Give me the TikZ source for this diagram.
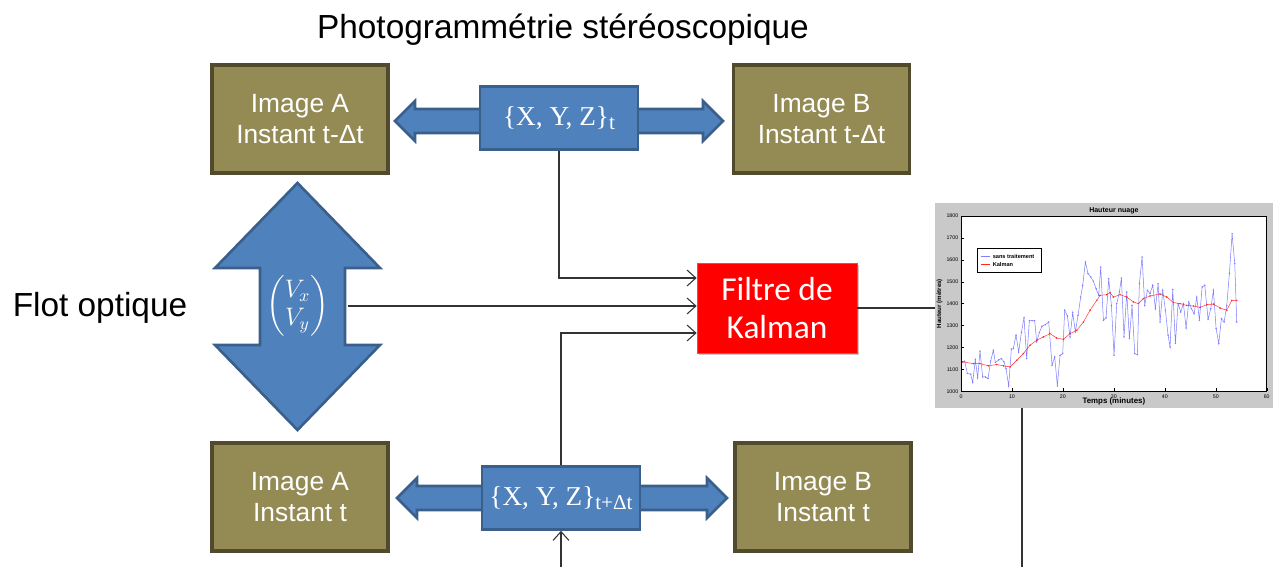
\documentclass[tikz,border=0pt]{standalone}
\usepackage{amsmath}
\usepackage{fontspec}
\setmainfont{Liberation Sans}
\newfontfamily\kalfont{Carlito}
\newfontfamily\xyzfont{Liberation Serif}
\usetikzlibrary{arrows.meta,shadows}

\definecolor{boxblue}{HTML}{4F81BD}
\definecolor{blueline}{HTML}{3A5F8B}
\definecolor{imgfill}{HTML}{948A54}
\definecolor{imgline}{HTML}{524A2C}
\definecolor{rawblue}{HTML}{8080FF}

\begin{document}
\begin{tikzpicture}[
    imgbox/.style={draw=imgline, line width=2pt, fill=imgfill, text=white,
        minimum width=3.52cm, minimum height=2.16cm, align=center,
        font=\fontsize{15}{18}\selectfont},
    xyzbox/.style={draw=blueline, line width=1.5pt, fill=boxblue, text=white,
        minimum width=3.16cm, minimum height=1.26cm,
        font=\xyzfont\fontsize{15.5}{17}\selectfont},
    bigarrow/.style={draw=blueline, line width=1.5pt, fill=boxblue},
    conn/.style={draw=black!80, line width=0.6pt, -{Straight Barb[length=5pt,width=9pt]}},
    link/.style={draw=black!80, line width=0.6pt},
    ticklbl/.style={font=\fontsize{3}{3}\selectfont, inner sep=0.5pt}
]
    \useasboundingbox (0,0) rectangle (25.48,-11.34);

    % Titles
        \node (title) at (11.26,-0.6) {\fontsize{19}{22}\selectfont Photogrammétrie stéréoscopique};
        \node (flotlbl) at (2.0,-6.16) {\fontsize{19}{22}\selectfont Flot optique};

    % The four images.
        \node[imgbox] (imgAt) at (6.0,-2.38) {Image A\\Instant t-Δt};
        \node[imgbox] (imgBt) at (16.43,-2.38) {Image B\\Instant t-Δt};
        \node[imgbox] (imgAb) at (6.0,-9.94) {Image A\\Instant t};
        \node[imgbox] (imgBb) at (16.46,-9.94) {Image B\\Instant t};

    % Horizontal double arrows behind the {X,Y,Z} boxes.
        \foreach \xl/\xr/\y in {7.9/14.46/-2.42, 7.94/14.54/-9.96}
            \draw[bigarrow] (\xl,\y) -- ({\xl+0.4},{\y+0.4}) -- ({\xl+0.4},{\y+0.24})
                -- ({\xr-0.4},{\y+0.24}) -- ({\xr-0.4},{\y+0.4}) -- (\xr,\y)
                -- ({\xr-0.4},{\y-0.4}) -- ({\xr-0.4},{\y-0.24})
                -- ({\xl+0.4},{\y-0.24}) -- ({\xl+0.4},{\y-0.4}) -- cycle;
        \node[xyzbox] (xyzt) at (11.18,-2.36)
            {\{X, Y, Z\}\raisebox{-0.35ex}{\fontsize{12}{12}\selectfont t}};
        \node[xyzbox] (xyzdt) at (11.22,-9.96)
            {\{X, Y, Z\}\raisebox{-0.35ex}{\fontsize{12}{12}\selectfont t+Δt}};

    % Vertical double arrow (optical flow).
        \draw[bigarrow] (5.95,-3.66) -- (7.6,-5.36) -- (6.9,-5.36) -- (6.9,-6.9)
            -- (7.6,-6.9) -- (5.95,-8.6) -- (4.3,-6.9) -- (5.2,-6.9)
            -- (5.2,-5.36) -- (4.3,-5.36) -- cycle;
        \node[text=white, minimum width=2cm] (flot) at (5.95,-6.12)
            {\fontsize{14}{16}\selectfont$\begin{pmatrix}V_x\\V_y\end{pmatrix}$};

    % Kalman filter.
        \node[draw=boxblue, line width=0.4pt, fill=red, text=white, align=center,
            minimum width=3.2cm, minimum height=1.8cm,
            drop shadow={shadow xshift=1.2pt, shadow yshift=-1.2pt, opacity=0.45},
            font=\kalfont\fontsize{19}{22}\selectfont] (kalman) at (15.54,-6.16)
            {Filtre de\\Kalman};

    % Connectors into the filter.
        \draw[conn] (xyzt.south) |- ([yshift=0.6cm]kalman.west);
        \draw[conn] (flot.east) -- (flot.east -| kalman.west);
        \draw[conn] (xyzdt.north) |- ([yshift=-0.5cm]kalman.west);
        \coordinate (inxyz) at (11.22,-11.34);
        \draw[conn] (inxyz) -- (xyzdt.south);

    % Result plot.
        \node[fill=black!21, minimum width=6.76cm, minimum height=4.1cm] (plot) at (22.08,-6.11) {};
        \draw[link] (kalman.east) -- (kalman.east -| plot.west);
        \coordinate (outplot) at (20.44,-11.34);
        \draw[link] (plot.south -| outplot) -- (outplot);

        \begin{scope}[shift={(19.22,-12.203)}, x=0.1019cm, y=0.004383cm]
            \draw[fill=white, line width=0.3pt] (0,1000) rectangle (60,1800);
            \foreach \v in {1000,1100,...,1800} {
                \draw[line width=0.2pt] (0,\v) -- (0.6,\v);
                \node[ticklbl, anchor=east] at (-0.3,\v) {\v};
            }
            \foreach \v in {0,10,...,60} {
                \draw[line width=0.2pt] (\v,1000) -- (\v,1015);
                \node[ticklbl, anchor=north] at (\v,990) {\v};
            }
            \node[font=\bfseries\fontsize{4}{4}\selectfont, inner sep=0pt] at (30,1826) {Hauteur nuage};
            \node[font=\bfseries\fontsize{4.5}{5}\selectfont, inner sep=0pt] at (30,952) {Temps (minutes)};
            \node[font=\bfseries\fontsize{3.5}{4}\selectfont, inner sep=0pt, rotate=90] at (-4.2,1400) {Hauteur (mètres)};
            % raw heights
            \draw[rawblue, line width=0.3pt] plot[mark=*, mark size=0.25pt, mark options={fill=rawblue}] coordinates {
                (0.33,1134) (0.72,1137) (1.24,1081) (1.90,1078) (2.29,1040) (2.81,1144) (3.27,1061) (3.73,1183)
                (4.25,1065) (4.78,1065) (5.30,1058) (5.82,1138) (6.35,1187) (6.74,1131) (7.40,1143) (7.92,1149)
                (8.44,1134) (8.84,1103) (9.36,1024) (9.88,1192) (10.27,1195) (10.80,1256) (11.32,1179) (11.85,1268)
                (12.37,1335) (12.89,1149) (13.42,1322) (13.94,1322) (14.46,1322) (14.86,1225) (15.38,1268) (15.90,1297)
                (16.56,1304) (17.21,1316) (17.87,1119) (18.39,1157) (18.91,1024) (19.44,1164) (19.96,1172) (20.35,1370)
                (20.88,1344) (21.40,1248) (21.92,1359) (22.45,1271) (22.97,1347) (23.49,1430) (23.89,1484) (24.41,1590)
                (24.93,1537) (25.46,1522) (25.98,1502) (26.51,1468) (27.03,1438) (27.42,1567) (27.95,1324) (28.47,1335)
                (28.99,1514) (29.52,1392) (30.04,1164) (30.56,1400) (31.09,1453) (31.48,1517) (32.00,1248) (32.53,1453)
                (33.05,1240) (33.57,1392) (34.10,1172) (34.62,1167) (35.01,1491) (35.54,1613) (36.06,1392) (36.58,1461)
                (37.11,1446) (37.63,1484) (38.15,1377) (38.68,1491) (39.07,1316) (39.59,1461) (40.12,1370) (40.64,1256)
                (41.03,1202) (41.56,1465) (42.08,1218) (42.60,1400) (43.13,1362) (43.65,1400) (44.18,1289) (44.70,1408)
                (45.22,1377) (45.75,1354) (46.27,1430) (46.79,1324) (47.32,1476) (47.84,1484) (48.49,1329) (49.02,1377)
                (49.54,1461) (50.07,1286) (50.59,1218) (51.11,1332) (51.64,1316) (52.16,1392) (52.68,1537) (53.21,1719)
                (53.73,1583) (54.12,1316)};
            % filtered heights
            \draw[red!85, line width=0.25pt] plot[mark=*, mark size=0.3pt, mark options={fill=red!85}] coordinates {
                (0.33,1134) (2.42,1126) (3.73,1126) (5.37,1116) (7.00,1122) (8.31,1116) (9.62,1111) (10.93,1141)
                (12.24,1172) (13.55,1210) (14.86,1233) (16.16,1248) (17.47,1263) (18.78,1243) (20.09,1237) (21.40,1263)
                (22.71,1278) (24.02,1316) (25.33,1370) (26.64,1415) (27.29,1438) (28.60,1441) (29.25,1450) (29.91,1430)
                (31.22,1441) (32.53,1430) (33.84,1408) (34.82,1400) (35.80,1423) (37.11,1435) (39.07,1444) (40.38,1430)
                (41.69,1405) (43.00,1400) (44.31,1392) (45.62,1389) (46.92,1383) (48.23,1395) (49.54,1398) (50.85,1380)
                (52.16,1370) (53.14,1415) (54.12,1415)};
            % legend
            \draw[fill=white, line width=0.3pt] (3.27,1545) rectangle (15.67,1654);
            \draw[rawblue, line width=0.3pt] (3.9,1617) -- (5.7,1617);
            \draw[red!85, line width=0.25pt] (3.9,1578) -- (5.7,1578);
            \node[ticklbl, font=\bfseries\fontsize{3.2}{3.5}\selectfont, anchor=west] at (6.0,1617) {sans traitement};
            \node[ticklbl, font=\bfseries\fontsize{3.2}{3.5}\selectfont, anchor=west] at (6.0,1578) {Kalman};
        \end{scope}
\end{tikzpicture}
\end{document}
